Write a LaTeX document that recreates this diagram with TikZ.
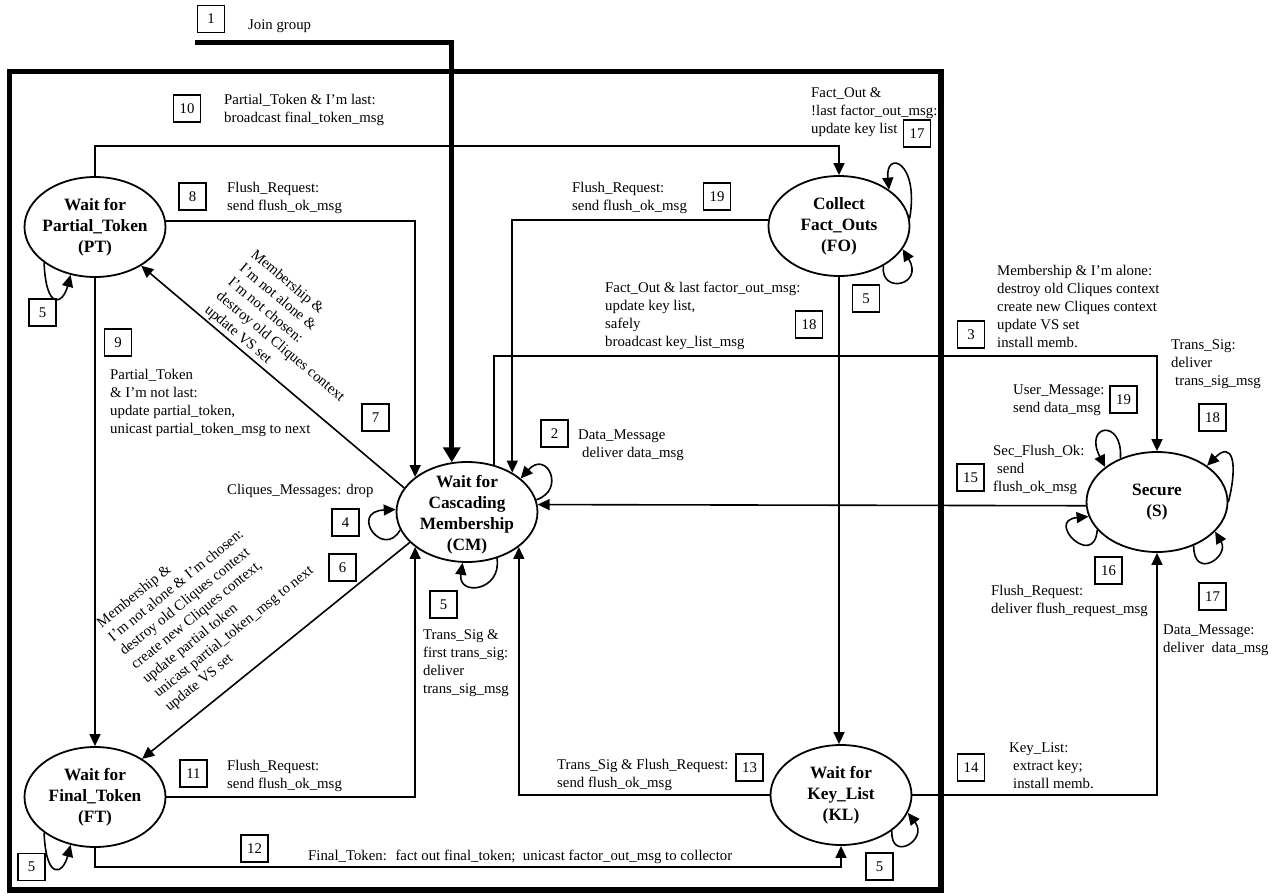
\documentclass[tikz,border=0pt]{standalone}
\usepackage{fontspec}
\setmainfont{Liberation Serif}
\usetikzlibrary{arrows.meta,shapes.geometric}
\newcommand\lblfont{\fontsize{14.8}{18}\selectfont}
\newcommand\stfont{\fontsize{17.3}{21}\selectfont\bfseries}
\begin{document}
\begin{tikzpicture}[x=1pt,y=-1pt,
  stnode/.style={ellipse,draw,line width=1.8pt,minimum width=141pt,minimum height=100pt,inner sep=0pt},
  stxt/.style={align=center,font=\stfont,inner sep=0pt},
  num/.style={draw,line width=1.5pt,minimum width=27pt,minimum height=27pt,inner sep=0pt,font=\lblfont},
  lbl/.style={anchor=north west,inner sep=0pt,align=left,font=\lblfont},
  conn/.style={line width=1.6pt,-{Triangle[length=12pt,width=11pt]}},
  connplain/.style={line width=1.6pt},
  joinline/.style={line width=5pt,-{Triangle[length=15pt,width=17pt]}},
  frame/.style={line width=5.5pt},
]
\useasboundingbox (0,0) rectangle (1275,895);

% frame
\draw[frame] (9.5,71.5) rectangle (941,890);

% states
\node[stnode,label={[stxt]center:Wait for\\Partial\_Token\\(PT)}] (PT) at (95,227) {};
\node[stnode,label={[stxt]center:Collect\\Fact\_Outs\\(FO)}] (FO) at (839,226) {};
\node[stnode,label={[stxt,yshift=-3pt]center:Wait for\\Cascading\\Membership\\(CM)}] (CM) at (467,512) {};
\node[stnode,label={[stxt]center:Wait for\\Final\_Token\\(FT)}] (FT) at (95,797) {};
\node[stnode,label={[stxt]center:Wait for\\Key\_List\\(KL)}] (KL) at (841,795) {};
\node[stnode,label={[stxt]center:Secure\\(S)}] (S) at (1157,502) {};

% helper coordinates
\coordinate (j1) at (195,42);
\coordinate (c10) at (0,146);
\coordinate (c3) at (0,356);
\coordinate (c12) at (0,867);

% join
\draw[joinline] (j1) -| (CM.107);

% connectors
\draw[conn] (PT.north) -- (PT.north |- c10) -| (FO.north);
\draw[conn] (PT.5) -| (CM.146);
\draw[conn] (FO.175) -| (CM.41);
\draw[conn] (PT.south) -- (FT.north);
\draw[conn] (FO.south) -- (FO.south |- KL.north);
\draw[conn] (CM.159) -- (PT.-40);
\draw[conn] (CM.208) -- (FT.39);
\draw[conn] (CM.60) -- (CM.60 |- c3) -| (S.north);
\draw[conn] (S.183) -- (CM.6);
\draw[conn] (FT.east) -| (CM.214);
\draw[conn] (KL.west) -| (CM.-34);
\draw[conn] (KL.east) -| (S.south);
\draw[conn] (FT.south) -- (FT.south |- c12) -| (KL.south);

% self loops
\draw[conn] (PT.215) .. controls +(2,48) and +(-8,30) .. (PT.243);
\draw[conn] (FT.215) .. controls +(2,48) and +(-8,30) .. (FT.243);
\draw[conn] (FO.6) .. controls +(10,-58) and +(-4,-40) .. (FO.36);
\draw[conn] (FO.-42) .. controls +(-3,29) and +(22,36) .. (FO.-20);
\draw[conn] (KL.-35) .. controls +(-2,32) and +(21,27) .. (KL.-15);
\draw[conn] (CM.10) .. controls +(30,-10) and +(26,-29) .. (CM.32);
\draw[conn] (CM.195) .. controls +(-17,30) and +(-47,2) .. (CM.178);
\draw[conn] (CM.-57) .. controls +(5,33) and +(-5,34) .. (CM.265);
\draw[conn] (S.130) .. controls +(3,-40) and +(-22,-43) .. (S.146);
\draw[conn] (S.205) .. controls +(-3,40) and +(-44,4) .. (S.192);
\draw[conn] (S.0) .. controls +(10,-40) and +(25,-25) .. (S.36);
\draw[conn] (S.-50) .. controls +(0,35) and +(15,25) .. (S.-27);

% number boxes
\node[num] (n1) at (211,19) {1};
\node[num] (n10) at (187,108.5) {10};
\node[num] (n8) at (192.5,196.5) {8};
\node[num] (n19a) at (717,196.5) {19};
\node[num] (n17a) at (917,133.5) {17};
\node[num] (n5pt) at (42.5,312.5) {5};
\node[num] (n5fo) at (866,298.5) {5};
\node[num] (n9) at (118,342.5) {9};
\node[num] (n18a) at (809,324.5) {18};
\node[num] (n3) at (971,334.5) {3};
\node[num] (n18b) at (1212.5,417.5) {18};
\node[num] (n19b) at (1123.5,399.5) {19};
\node[num] (n7) at (375.5,417.5) {7};
\node[num] (n2) at (554.5,433.5) {2};
\node[num] (n15) at (970.5,477.5) {15};
\node[num] (n4) at (345.5,522.5) {4};
\node[num] (n6) at (342.5,567.5) {6};
\node[num] (n16) at (1108.5,570.5) {16};
\node[num] (n17b) at (1212.5,596.5) {17};
\node[num] (n5cm) at (443.5,604.5) {5};
\node[num] (n14) at (971,767.5) {14};
\node[num] (n13) at (749.5,767.5) {13};
\node[num] (n11) at (193.5,773.5) {11};
\node[num] (n12) at (254.5,848.5) {12};
\node[num] (n5kl) at (879.5,866.5) {5};
\node[num] (n5ft) at (31.5,867) {5};

% labels
\node[lbl] (tjoin) at (248,19.7) {Join group};
\node[lbl] (t10) at (224,93.7) {Partial\_Token \& I’m last:\\broadcast final\_token\_msg};
\node[lbl] (t8) at (227,181.7) {Flush\_Request:\\send flush\_ok\_msg};
\node[lbl] (t19a) at (572,181.7) {Flush\_Request:\\send flush\_ok\_msg};
\node[lbl] (t17a) at (811,87.7) {Fact\_Out \&\\!last factor\_out\_msg:\\update key list};
\node[lbl] (t9) at (110,368.7) {Partial\_Token\\\& I’m not last:\\update partial\_token,\\unicast partial\_token\_msg to next};
\node[lbl] (t18a) at (605,281.7) {Fact\_Out \& last factor\_out\_msg:\\update key list,\\safely\\broadcast key\_list\_msg};
\node[lbl] (t3) at (997,264.7) {Membership \& I’m alone:\\destroy old Cliques context\\create new Cliques context\\update VS set\\install memb.};
\node[lbl] (t18b) at (1171,339.7) {Trans\_Sig:\\deliver\\\hspace*{4pt}trans\_sig\_msg};
\node[lbl] (t19b) at (1013,384.7) {User\_Message:\\send data\_msg};
\node[lbl] (t2) at (578,429.7) {Data\_Message\\\hspace*{4pt}deliver data\_msg};
\node[lbl] (t4) at (227,483.7) {Cliques\_Messages: drop};
\node[lbl] (t15) at (993,444.7) {Sec\_Flush\_Ok:\\\hspace*{4pt}send\\flush\_ok\_msg};
\node[lbl] (t16) at (991,584.7) {Flush\_Request:\\deliver flush\_request\_msg};
\node[lbl] (t17b) at (1163,624.7) {Data\_Message:\\deliver~ data\_msg};
\node[lbl] (t5cm) at (423,629.7) {Trans\_Sig \&\\first trans\_sig:\\deliver\\trans\_sig\_msg};
\node[lbl] (t13) at (557,758.7) {Trans\_Sig \& Flush\_Request:\\send flush\_ok\_msg};
\node[lbl] (t14) at (1009,742.7) {Key\_List:\\\hspace*{4pt}extract key;\\\hspace*{4pt}install memb.};
\node[lbl] (t11) at (227,759.7) {Flush\_Request:\\send flush\_ok\_msg};
\node[lbl] (t12) at (308,849.7) {Final\_Token:~ fact out final\_token;~ unicast factor\_out\_msg to collector};
\node[lbl,rotate=-40] (t7) at (257,248) {Membership \&\\I’m not alone \&\\I’m not chosen:\\destroy old Cliques context\\update VS set};
\node[lbl,rotate=39] (t6) at (95,620) {Membership \&\\I’m not alone \& I’m chosen:\\destroy old Cliques context\\create new Cliques context,\\update partial token\\unicast partial\_token\_msg to next\\update VS set};
\end{tikzpicture}
\end{document}
